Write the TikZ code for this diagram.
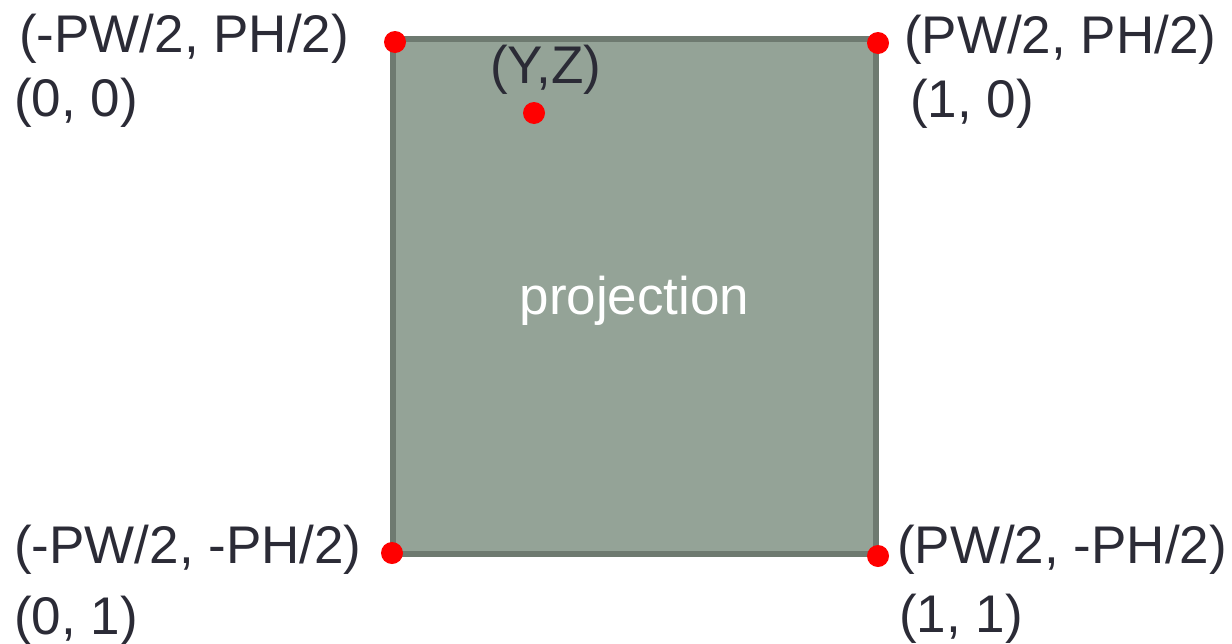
\documentclass[tikz,border=0pt]{standalone}
\usepackage{fontspec}
\setmainfont{Liberation Sans}
\definecolor{projfill}{HTML}{94A397}
\definecolor{projedge}{HTML}{6E7A70}
\definecolor{labeltext}{HTML}{2B2B36}

\begin{document}
\begin{tikzpicture}[x=1pt, y=-1pt,
    every node/.style={font=\fontsize{53}{64}\selectfont, text=labeltext, inner sep=0pt, anchor=base west},
    corner/.style={circle, fill=red, minimum size=22pt, inner sep=0pt, anchor=center}]
    \useasboundingbox[fill=white] (0,0) rectangle (1232,643);
    % Box
    \node[draw=projedge, line width=6pt, fill=projfill, minimum width=483pt, minimum height=515pt, outer sep=0pt, anchor=center, text=white, text height=38pt, text depth=3pt] at (634.5,296.5) (proj) {projection};

    % Points
    \node[corner] at (395,42) (tl) {};
    \node[corner] at (878,43) (tr) {};
    \node[corner] at (392,553) (bl) {};
    \node[corner] at (878,556) (br) {};
    \node[corner] at (534,113) (yz) {};

    % Labels
    \node at (19,52) (tlworld) {(-PW/2, PH/2)};
    \node at (14,116) (tluv) {(0, 0)};
    \node at (904,53) (trworld) {(PW/2, PH/2)};
    \node at (910,117) (truv) {(1, 0)};
    \node at (14,563) (blworld) {(-PW/2, -PH/2)};
    \node at (14,634) (bluv) {(0, 1)};
    \node at (897,563) (brworld) {(PW/2, -PH/2)};
    \node at (899,632) (bruv) {(1, 1)};
    \node at (490,83) (yzlabel) {(Y,Z)};
\end{tikzpicture}
\end{document}
